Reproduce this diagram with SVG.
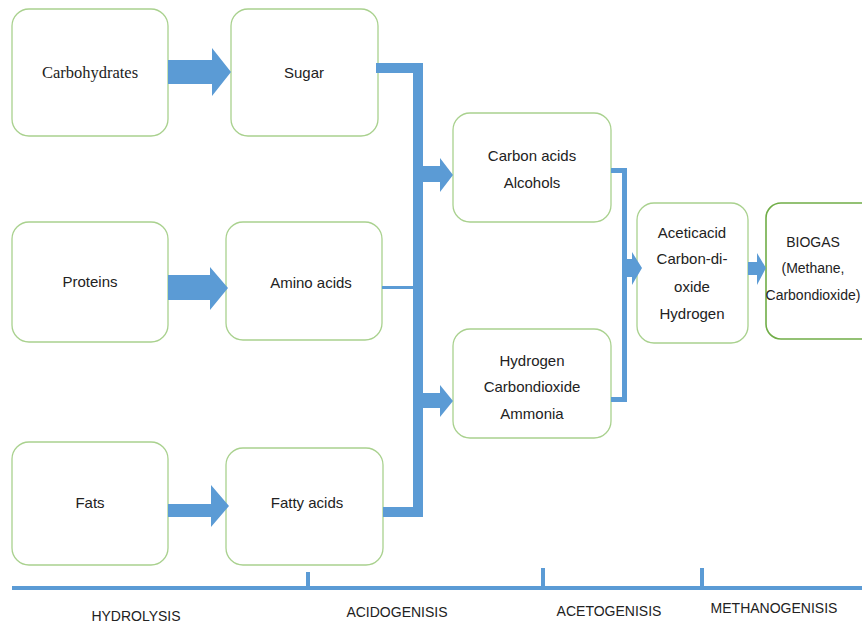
<svg xmlns="http://www.w3.org/2000/svg" width="862" height="626" viewBox="0 0 862 626">
<style>
.box{fill:#fff;stroke:#a9d18e;stroke-width:1.3}
.box2{fill:#fff;stroke:#70ad47;stroke-width:1.6}
.t{font-family:"Liberation Sans",Arial,sans-serif;font-size:15px;fill:#222;text-anchor:middle}
.bt{font-family:"Liberation Sans",Arial,sans-serif;font-size:14px;fill:#222;text-anchor:middle}
.s{font-family:"Liberation Serif","DejaVu Serif","Times New Roman",serif;font-size:16.5px;fill:#222;text-anchor:middle}
.l{font-family:"Liberation Sans",Arial,sans-serif;font-size:14px;fill:#222;text-anchor:middle}
.b{fill:#5b9bd5}
</style>
<rect width="862" height="626" fill="#fff"/>
<g id="n-carbohydrates"><rect class="box" x="12" y="9" width="156" height="127" rx="17"/><text class="s" x="90" y="78">Carbohydrates</text></g>
<g id="n-sugar"><rect class="box" x="231" y="9" width="147" height="127" rx="17"/><text class="t" x="304" y="78">Sugar</text></g>
<g id="n-proteins"><rect class="box" x="12" y="222" width="156" height="120" rx="17"/><text class="t" x="90" y="287">Proteins</text></g>
<g id="n-amino"><rect class="box" x="226" y="222" width="156" height="118" rx="17"/><text class="t" x="311" y="288">Amino acids</text></g>
<g id="n-fats"><rect class="box" x="12" y="442" width="156" height="123" rx="17"/><text class="t" x="90" y="508">Fats</text></g>
<g id="n-fatty"><rect class="box" x="226" y="448" width="157" height="117" rx="17"/><text class="t" x="307" y="508">Fatty acids</text></g>
<g id="n-carbonacids"><rect class="box" x="453" y="113" width="158" height="109" rx="17"/><text class="t" x="532" y="161">Carbon acids</text><text class="t" x="532" y="188">Alcohols</text></g>
<g id="n-hydrogen"><rect class="box" x="453" y="329" width="158" height="109" rx="17"/><text class="t" x="532" y="366">Hydrogen</text><text class="t" x="532" y="392">Carbondioxide</text><text class="t" x="532" y="419">Ammonia</text></g>
<g id="n-aceticacid"><rect class="box" x="637" y="203" width="111" height="140" rx="17"/><text class="t" x="692" y="238">Aceticacid</text><text class="t" x="692" y="264">Carbon-di-</text><text class="t" x="692" y="292">oxide</text><text class="t" x="692" y="319">Hydrogen</text></g>
<g id="n-biogas"><rect class="box2" x="766" y="203" width="110" height="136" rx="15"/><text class="bt" x="813" y="247">BIOGAS</text><text class="bt" x="813" y="273">(Methane,</text><text class="bt" x="813" y="300">Carbondioxide)</text></g>
<g id="connectors">
<polygon class="b" points="168,60 212,60 212,48 231,72 212,96 212,84 168,84"/>
<polygon class="b" points="168,275 210,275 210,267 228,288 210,310 210,300 168,300"/>
<polygon class="b" points="168,504 211,504 211,485 229,506 211,527 211,517 168,517"/>
<rect class="b" x="376" y="63" width="47" height="10"/>
<rect class="b" x="413" y="63" width="10" height="454"/>
<rect class="b" x="382" y="286" width="31" height="3"/>
<rect class="b" x="383" y="507" width="40" height="10"/>
<polygon class="b" points="423,166 440,166 440,158 453,175 440,192 440,182 423,182"/>
<polygon class="b" points="423,393 440,393 440,385 453,401 440,417 440,408 423,408"/>
<rect class="b" x="611" y="168" width="16" height="5"/>
<rect class="b" x="622" y="168" width="5" height="234"/>
<rect class="b" x="611" y="397" width="16" height="5"/>
<polygon class="b" points="627,259 632,259 632,252 642,268 632,285 632,277 627,277"/>
<polygon class="b" points="748,262 757,262 757,253 766,268 757,285 757,275 748,275"/>
</g>
<g id="timeline">
<rect class="b" x="12" y="586" width="850" height="4"/>
<rect class="b" x="306" y="572" width="4" height="16"/>
<rect class="b" x="541" y="568" width="4" height="20"/>
<rect class="b" x="700" y="568" width="4" height="20"/>
<text class="l" x="136" y="621">HYDROLYSIS</text>
<text class="l" x="397" y="617">ACIDOGENISIS</text>
<text class="l" x="609" y="616">ACETOGENISIS</text>
<text class="l" x="774" y="613">METHANOGENISIS</text>
</g>
</svg>
